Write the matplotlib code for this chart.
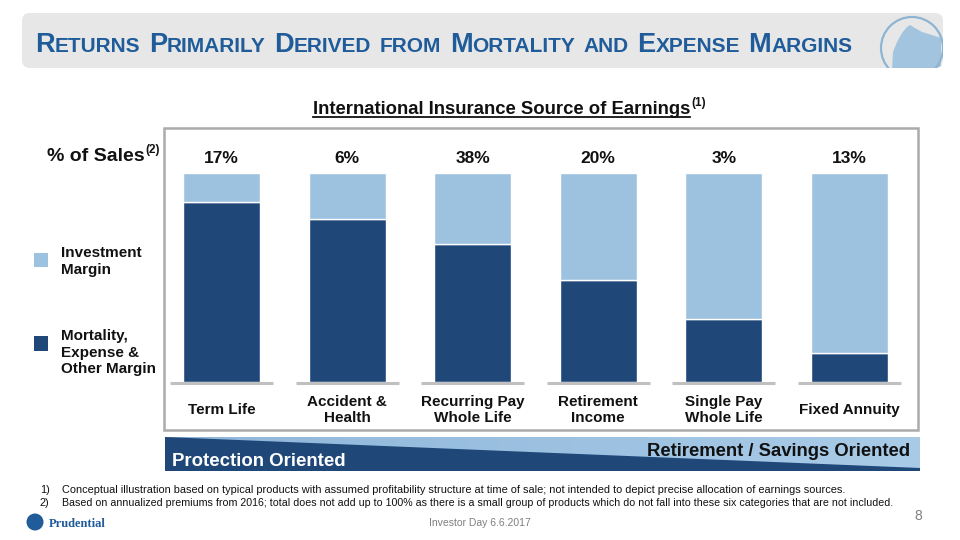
import matplotlib
matplotlib.use("Agg")
import matplotlib.pyplot as plt
import numpy as np
from matplotlib.patches import Rectangle, FancyBboxPatch, Polygon, Circle
from matplotlib.colors import LinearSegmentedColormap

plt.rcParams['font.family'] = ['Liberation Sans', 'DejaVu Sans']

# data
categories = ["Term Life", "Accident &\nHealth", "Recurring Pay\nWhole Life",
              "Retirement\nIncome", "Single Pay\nWhole Life", "Fixed Annuity"]
sales_pct = ["17%", "6%", "38%", "20%", "3%", "13%"]
mortality = [86, 78, 66, 49, 30, 14]
investment = [100 - m for m in mortality]

DARK = '#1F4879'
LIGHT = '#9CC2DF'
TITLE_BLUE = '#1F5C99'
TXT = '#111111'

W, H = 960, 540
fig = plt.figure(figsize=(9.6, 5.4), dpi=100)

# overlay axes in pixel coords for the slide decorations
bg = fig.add_axes([0, 0, 1, 1])
bg.set_xlim(0, W)
bg.set_ylim(H, 0)
bg.axis('off')

# title box
tbox = FancyBboxPatch((26, 17), 913, 47, boxstyle="round,pad=4,rounding_size=8",
                      fc='#E7E7E7', ec='none')
bg.add_patch(tbox)

# logo in title box (circle + rock), clipped to box
rock = Polygon([(892, 70), (893, 52), (897, 42), (902, 33), (907, 27), (910, 25),
                (915, 28), (922, 32), (932, 35), (941, 38), (941, 70)],
               closed=True, fc='#A3C4DE', ec='none')
circ = Circle((912, 48), 31, fc='none', ec='#8DB5D3', lw=1.6)
for p in (rock, circ):
    bg.add_patch(p)
    p.set_clip_path(tbox)

fig.canvas.draw()
renderer = fig.canvas.get_renderer()


def seq_text(x, y, pieces, **kw):
    # draw text pieces one after the other on the same baseline
    inv = bg.transData.inverted()
    for s, size in pieces:
        if s == ' ':
            x += size
            continue
        t = bg.text(x, y, s, fontsize=size, va='baseline', ha='left', **kw)
        bb = t.get_window_extent(renderer)
        x = inv.transform((bb.x1, bb.y0))[0]
    return x


# small caps title
words = "Returns Primarily Derived from Mortality and Expense Margins".split()
pieces = []
for w in words:
    if w[0].isupper():
        pieces.append((w[0], 19.5))
        pieces.append((w[1:].upper(), 15.0))
    else:
        pieces.append((w.upper(), 15.0))
    pieces.append((' ', 8.5))
seq_text(35, 52, pieces[:-1], color=TITLE_BLUE, fontweight='bold')

# subtitle, underlined
sub = bg.text(313, 114, "International Insurance Source of Earnings", fontsize=13.3,
              fontweight='bold', color=TXT, va='baseline', ha='left')
bb = sub.get_window_extent(renderer)
x_end = bg.transData.inverted().transform((bb.x1, bb.y0))[0]
bg.plot([313, x_end], [117, 117], color=TXT, lw=1.3)
bg.text(x_end + 1, 106, "(1)", fontsize=8.5, fontweight='bold', color=TXT,
        va='baseline', ha='left')

# chart frame
bg.add_patch(Rectangle((164, 128), 754, 302, fc='none', ec='#ABABAB', lw=1.8))

# % of sales
sx = seq_text(47, 161, [("% of Sales", 14)], color=TXT, fontweight='bold')
bg.text(sx + 1, 153, "(2)", fontsize=8.5, fontweight='bold', color=TXT,
        va='baseline', ha='left')

# legend
bg.add_patch(Rectangle((34, 253), 14, 14, fc=LIGHT, ec='none'))
bg.add_patch(Rectangle((34, 336), 14, 15, fc=DARK, ec='none'))
bg.text(61, 246, "Investment\nMargin", fontsize=11, fontweight='bold', color=TXT,
        va='top', ha='left', linespacing=1.25)
bg.text(61, 329, "Mortality,\nExpense &\nOther Margin", fontsize=11, fontweight='bold',
        color=TXT, va='top', ha='left', linespacing=1.25)

# bottom banner
bx0, bx1, by0, by1 = 165, 920, 437, 471
grad = np.linspace(0, 1, 256).reshape(1, -1)
cmap = LinearSegmentedColormap.from_list('b', ['#8FB6DA', '#A8CBE7'])
bg.imshow(grad, extent=(bx0, bx1, by1, by0), cmap=cmap, aspect='auto', zorder=1)
bg.set_xlim(0, W)
bg.set_ylim(H, 0)
bg.add_patch(Polygon([(bx0, by0), (bx1, by1 - 3), (bx1, by1), (bx0, by1)],
                     closed=True, fc=DARK, ec='none', zorder=2))
bg.text(172, 461, "Protection Oriented", fontsize=13.4, fontweight='bold', color='white',
        va='center', ha='left', zorder=3)
bg.text(910, 451, "Retirement / Savings Oriented", fontsize=13.3, fontweight='bold',
        color=TXT, va='center', ha='right', zorder=3)

# footnotes
notes = ["Conceptual illustration based on typical products with assumed profitability structure at time of sale; not intended to depict precise allocation of earnings sources.",
         "Based on annualized premiums from 2016; total does not add up to 100% as there is a small group of products which do not fall into these six categories that are not included."]
note_sizes = [7.9, 7.65]
for i, n in enumerate(notes):
    y = 490 + 13 * i
    bg.text(40, y, f"{i + 1})", fontsize=7.9, color=TXT, va='center', ha='left')
    bg.text(62, y, n, fontsize=note_sizes[i], color=TXT, va='center', ha='left')

bg.text(480, 523, "Investor Day 6.6.2017", fontsize=7.5, color='#7F7F7F', va='center', ha='center')
bg.text(918, 516, "8", fontsize=10, color='#7F7F7F', va='center', ha='center')

# prudential logo
bg.add_patch(Circle((35, 522), 8.5, fc=TITLE_BLUE, ec='none'))
bg.text(49, 524, "Prudential", fontsize=9, fontweight='bold', color=TITLE_BLUE,
        family='Liberation Serif', va='center', ha='left')

# bar chart axes: 0-100 maps to pixel 382-173, bar pitch 125.6 px
pitch = 125.6
left_px = 221.5 - 0.5 * pitch
ax = fig.add_axes([left_px / W, (H - 382) / H, 6 * pitch / W, 209 / H])
ax.set_xlim(-0.5, 5.5)
ax.set_ylim(0, 100)
ax.axis('off')
x = np.arange(len(categories))
bw = 77 / pitch
ax.bar(x, mortality, width=bw, color=DARK, edgecolor='white', linewidth=1)
ax.bar(x, investment, bottom=mortality, width=bw, color=LIGHT, edgecolor='white', linewidth=1)
for i in x:
    ax.plot([i - 0.41, i + 0.41], [-0.6, -0.6], color='#C0C0C0', lw=2.2,
            solid_capstyle='butt', clip_on=False)
    ax.text(i, 107, sales_pct[i], fontsize=12.5, fontweight='bold', color=TXT,
            ha='center', va='center')
    ax.text(i, -13.4, categories[i], fontsize=11, fontweight='bold', color=TXT,
            ha='center', va='center', linespacing=1.25)

fig.savefig("out.png", dpi=100)
